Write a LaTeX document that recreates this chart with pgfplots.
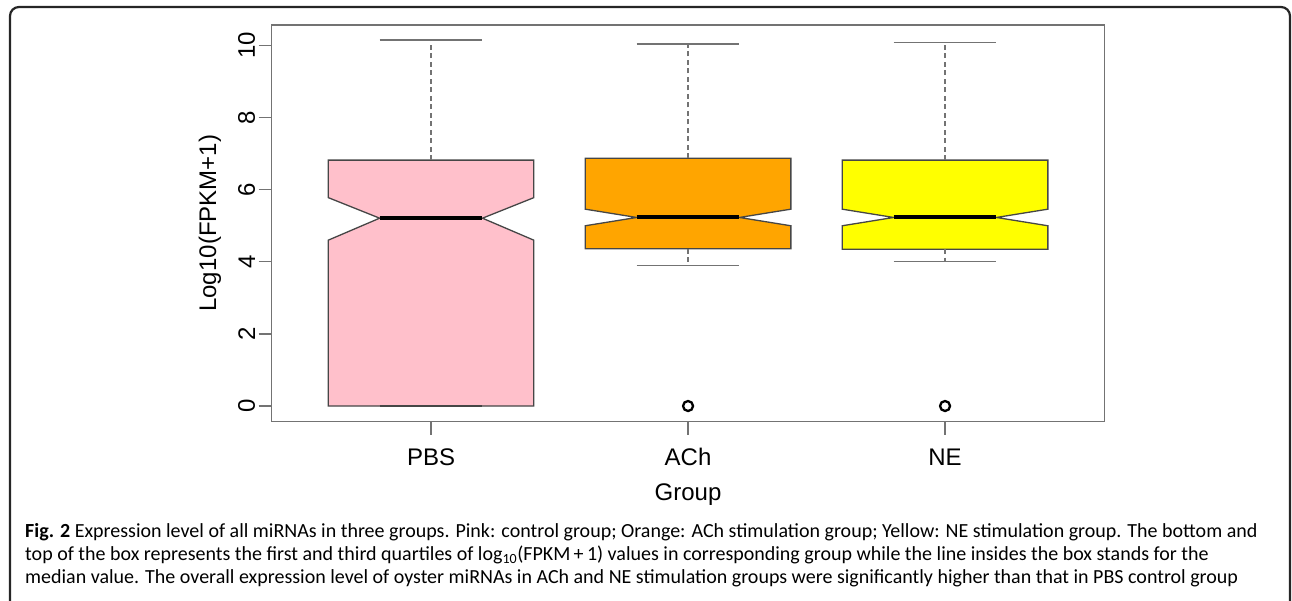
\documentclass[border=0pt]{standalone}
\usepackage{pgfplots}
\pgfplotsset{compat=1.18}
\usepackage{fontspec}
\setmainfont{Liberation Sans}
\newfontfamily\capfont{Carlito}
\definecolor{axgray}{RGB}{115,115,115}
\definecolor{boxline}{RGB}{70,70,70}
\definecolor{rpink}{RGB}{255,192,203}
\definecolor{rorange}{RGB}{255,165,0}
\definecolor{ryellow}{RGB}{255,255,0}
\begin{document}
\begin{tikzpicture}
\clip (0,0) rectangle (1292pt,601pt);
\draw[rounded corners=9pt, line width=2.2pt, black!85] (10pt,-30pt) -- (10pt,594pt) -- (1290pt,594pt) -- (1290pt,-30pt);
\begin{axis}[
  at={(271.7pt,179.3pt)}, anchor=south west,
  x=257pt, y=36.05pt,
  xmin=0.38, xmax=3.62, ymin=-0.435, ymax=10.57,
  xtick={1,2,3}, xticklabels={PBS,ACh,NE},
  ytick={0,2,4,6,8,10},
  tick pos=left, tick align=outside,
  major tick length=13pt,
  tick style={line width=1.3pt, axgray},
  axis line style={line width=1.5pt, axgray},
  /pgf/number format/assume math mode=true,
  ticklabel style={font=\fontsize{24}{28}\selectfont},
  yticklabel style={rotate=90, anchor=south},
  xticklabel style={anchor=base, yshift=-31pt},
  every axis y label/.style={at={(rel axis cs:0,0.5)}, xshift=-61.7pt, rotate=90, anchor=center, font=\fontsize{24}{28}\selectfont},
  every axis x label/.style={at={(rel axis cs:0.5,0)}, anchor=base, yshift=-79.3pt, font=\fontsize{24}{28}\selectfont},
  xlabel={Group}, ylabel={Log10(FPKM+1)},
  clip=false,
]
% PBS
\addplot[draw=boxline, line width=1.3pt, fill=rpink] coordinates {(0.6,0) (1.4,0) (1.4,4.60) (1.2,5.21) (1.4,5.78) (1.4,6.82) (0.6,6.82) (0.6,5.78) (0.8,5.21) (0.6,4.60)} -- cycle;
\addplot[axgray, line width=1.3pt, dash pattern=on 5pt off 3.5pt] coordinates {(1,6.82) (1,10.15)};
\addplot[axgray, line width=1.3pt] coordinates {(0.8,10.15) (1.2,10.15)};
\addplot[boxline, line width=1.3pt] coordinates {(0.8,0) (1.2,0)};
\addplot[black, line width=4pt] coordinates {(0.8,5.21) (1.2,5.21)};
% ACh
\addplot[draw=boxline, line width=1.3pt, fill=rorange] coordinates {(1.6,4.36) (2.4,4.36) (2.4,5.00) (2.2,5.23) (2.4,5.46) (2.4,6.87) (1.6,6.87) (1.6,5.46) (1.8,5.23) (1.6,5.00)} -- cycle;
\addplot[axgray, line width=1.3pt, dash pattern=on 5pt off 3.5pt] coordinates {(2,6.87) (2,10.04)};
\addplot[axgray, line width=1.3pt] coordinates {(1.8,10.04) (2.2,10.04)};
\addplot[axgray, line width=1.3pt, dash pattern=on 5pt off 3.5pt] coordinates {(2,4.36) (2,3.89)};
\addplot[axgray, line width=1.3pt] coordinates {(1.8,3.89) (2.2,3.89)};
\addplot[black, line width=4pt] coordinates {(1.8,5.23) (2.2,5.23)};
% NE
\addplot[draw=boxline, line width=1.3pt, fill=ryellow] coordinates {(2.6,4.35) (3.4,4.35) (3.4,5.00) (3.2,5.23) (3.4,5.46) (3.4,6.82) (2.6,6.82) (2.6,5.46) (2.8,5.23) (2.6,5.00)} -- cycle;
\addplot[axgray, line width=1.3pt, dash pattern=on 5pt off 3.5pt] coordinates {(3,6.82) (3,10.08)};
\addplot[axgray, line width=1.3pt] coordinates {(2.8,10.08) (3.2,10.08)};
\addplot[axgray, line width=1.3pt, dash pattern=on 5pt off 3.5pt] coordinates {(3,4.35) (3,4.00)};
\addplot[axgray, line width=1.3pt] coordinates {(2.8,4.00) (3.2,4.00)};
\addplot[black, line width=4pt] coordinates {(2.8,5.23) (3.2,5.23)};
% outliers
\addplot[only marks, mark=o, mark size=5pt, line width=2.3pt, black] coordinates {(2,0) (3,0)};
\end{axis}
\begin{scope}[font=\capfont\fontsize{20}{24}\selectfont]
\node[anchor=base west, inner sep=0pt] at (25pt,63.5pt) {\textbf{Fig. 2} Expression level of all miRNAs in three groups. Pink: control group; Orange: ACh stimulation group; Yellow: NE stimulation group. The bottom and};
\node[anchor=base west, inner sep=0pt] at (25pt,40.5pt) {top of the box represents the first and third quartiles of log\textsubscript{10}(FPKM\,+\,1) values in corresponding group while the line insides the box stands for the};
\node[anchor=base west, inner sep=0pt] at (25pt,17.5pt) {median value. The overall expression level of oyster miRNAs in ACh and NE stimulation groups were significantly higher than that in PBS control group};
\end{scope}
\end{tikzpicture}
\end{document}
